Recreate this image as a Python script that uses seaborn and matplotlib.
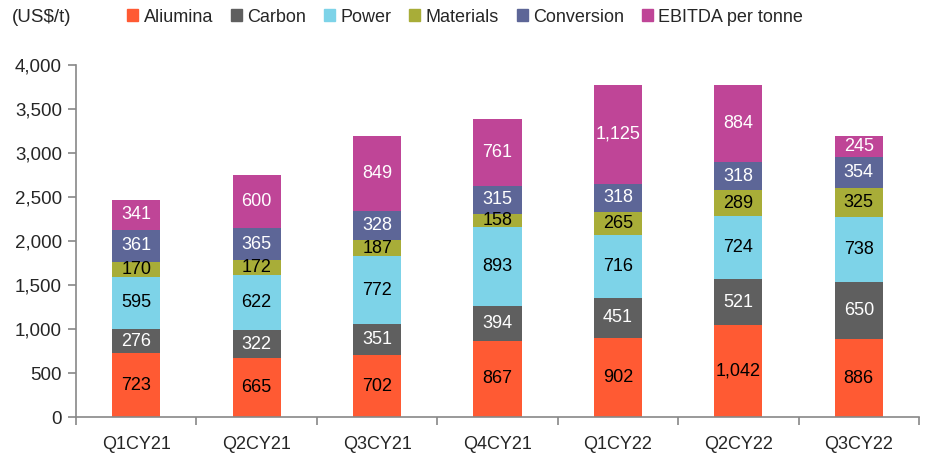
import matplotlib
matplotlib.use("Agg")
import matplotlib.pyplot as plt
import seaborn as sns
import numpy as np
import pandas as pd
from matplotlib.ticker import FuncFormatter, MultipleLocator
from matplotlib.patches import Patch

quarters = ["Q1CY21", "Q2CY21", "Q3CY21", "Q4CY21", "Q1CY22", "Q2CY22", "Q3CY22"]
aliumina = [723, 665, 702, 867, 902, 1042, 886]
carbon = [276, 322, 351, 394, 451, 521, 650]
power = [595, 622, 772, 893, 716, 724, 738]
materials = [170, 172, 187, 158, 265, 289, 325]
conversion = [361, 365, 328, 315, 318, 318, 354]
ebitda = [341, 600, 849, 761, 1125, 884, 245]

series_names = ["Aliumina", "Carbon", "Power", "Materials", "Conversion", "EBITDA per tonne"]
series_vals = [aliumina, carbon, power, materials, conversion, ebitda]
colors = ["#FF5A33", "#5F5F5F", "#7DD3E8", "#A8AD38", "#5D6697", "#BF4597"]
label_colors = ["black", "white", "black", "black", "white", "white"]

sns.set_theme(style="white")
plt.rcParams["font.family"] = ["Liberation Sans Narrow", "Liberation Sans", "DejaVu Sans"]

fig = plt.figure(figsize=(9.3, 4.57), dpi=100)
ax = fig.add_axes([76/930, 40/457, (919-76)/930, (417-65)/457])

bottom = np.zeros(len(quarters))
for name, vals, col, lc in zip(series_names, series_vals, colors, label_colors):
    df = pd.DataFrame({"q": quarters, "v": vals})
    sns.barplot(data=df, x="q", y="v", order=quarters, color=col, width=0.4,
                bottom=bottom.copy(), ax=ax, saturation=1, errorbar=None,
                linewidth=0, edgecolor=col)
    for i, v in enumerate(vals):
        ax.text(i, bottom[i] + v/2, f"{v:,}", ha="center", va="center",
                fontsize=13, color=lc)
    bottom = bottom + np.array(vals)

ax.set_xlim(-0.5, 6.5)
ax.set_ylim(0, 4000)
ax.yaxis.set_major_locator(MultipleLocator(500))
ax.yaxis.set_major_formatter(FuncFormatter(lambda v, p: f"{int(v):,}"))
ax.set_xlabel("")
ax.set_ylabel("")
for s in ["top", "right"]:
    ax.spines[s].set_visible(False)
for s in ["left", "bottom"]:
    ax.spines[s].set_color("#888888")
    ax.spines[s].set_linewidth(1.2)
ax.tick_params(axis="y", which="major", left=True, length=6, width=1.2, color="#888888",
               labelsize=13.5, direction="out", pad=4)
ax.set_xticks(range(len(quarters)))
ax.set_xticklabels(quarters)
ax.tick_params(axis="x", which="major", bottom=False, labelsize=13, pad=8)
ax.set_xticks(np.arange(-0.5, 7.0, 1.0), minor=True)
ax.tick_params(axis="x", which="minor", bottom=True, length=6, width=1.2,
               color="#888888", direction="out")

fig.text(12/930, 1 - 17/457, "(US$/t)", fontsize=13.5, va="center", ha="left")
handles = [Patch(facecolor=c, edgecolor=c) for c in colors]
fig.legend(handles, series_names, loc="center left", bbox_to_anchor=(120/930, 1 - 17/457),
           ncol=6, frameon=False, fontsize=13, handlelength=0.6, handleheight=0.6,
           handletextpad=0.3, columnspacing=1.0, borderaxespad=0)

fig.savefig("out.png", dpi=100)
